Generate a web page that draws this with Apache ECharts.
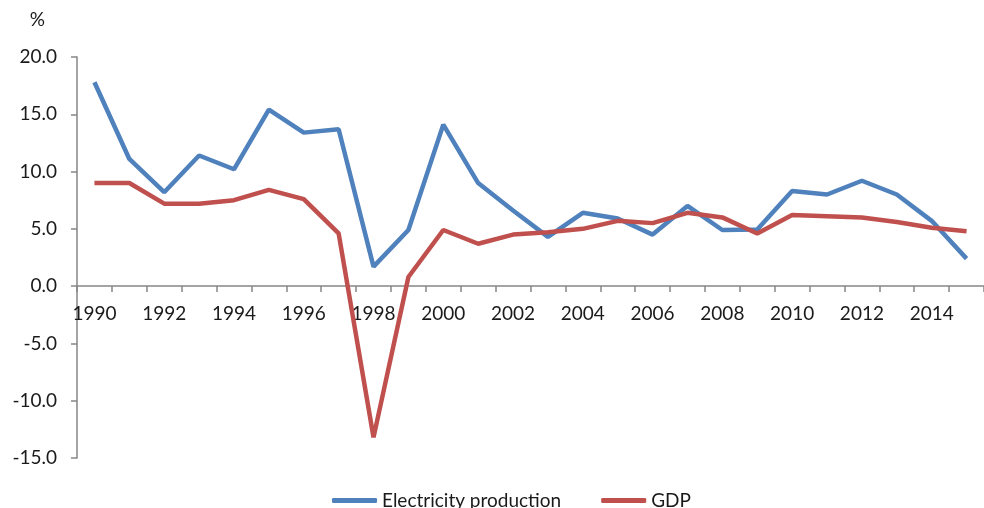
<!DOCTYPE html>
<html>
<head>
<meta charset="utf-8">
<script src="https://cdn.jsdelivr.net/npm/echarts@6/dist/echarts.min.js"></script>
<style>
  html, body { margin: 0; padding: 0; background: #fff; }
  #chart { width: 984px; height: 508px; }
</style>
</head>
<body>
<div id="chart"></div>
<script>
var years = ['1990', '1991', '1992', '1993', '1994', '1995', '1996', '1997', '1998', '1999',
    '2000', '2001', '2002', '2003', '2004', '2005', '2006', '2007', '2008', '2009',
    '2010', '2011', '2012', '2013', '2014', '2015'];

var electricity = [17.8, 11.1, 8.2, 11.4, 10.2, 15.4, 13.4, 13.7, 1.7, 4.9,
    14.1, 9.0, 6.6, 4.3, 6.4, 5.9, 4.5, 7.0, 4.9, 4.95,
    8.3, 8.0, 9.2, 8.0, 5.7, 2.4];

var gdp = [9.0, 9.0, 7.2, 7.2, 7.5, 8.4, 7.6, 4.6, -13.2, 0.8,
    4.9, 3.7, 4.5, 4.7, 5.0, 5.7, 5.5, 6.4, 6.0, 4.6,
    6.2, 6.1, 6.0, 5.6, 5.1, 4.8];

var font = 'Lato, "Open Sans", sans-serif';
var axisColor = '#868686';
var textColor = '#1a1a1a';

var chartDom = document.getElementById('chart');
var chart = echarts.init(chartDom);

var option = {
    animation: false,
    textStyle: { fontFamily: font },
    grid: { left: 77, right: 0, top: 57, bottom: 50 },
    legend: {
        bottom: -7,
        left: 327,
        itemWidth: 45,
        itemHeight: 5,
        itemGap: 40,
        icon: 'roundRect',
        textStyle: { fontSize: 19, color: textColor, fontFamily: font },
        data: ['Electricity production', 'GDP']
    },
    xAxis: {
        type: 'category',
        data: years,
        boundaryGap: true,
        offset: -172,
        axisLine: { onZero: false, lineStyle: { color: axisColor, width: 1.5 } },
        axisTick: { show: true, interval: 0, length: 6, lineStyle: { color: axisColor, width: 1.5 } },
        axisLabel: { interval: 1, margin: 18, fontSize: 19, color: textColor, fontFamily: font }
    },
    yAxis: {
        type: 'value',
        min: -15,
        max: 20,
        interval: 5,
        name: '%',
        nameLocation: 'end',
        nameGap: 28,
        nameTextStyle: { fontSize: 19, color: textColor, align: 'right', padding: [0, 32, 0, 0] },
        axisLine: { show: true, lineStyle: { color: axisColor, width: 1.5 } },
        axisTick: { show: true, length: 6, inside: false, lineStyle: { color: axisColor, width: 1.5 } },
        splitLine: { show: false },
        axisLabel: {
            margin: 20,
            fontSize: 19,
            color: textColor,
            fontFamily: font,
            formatter: function (v) { return v.toFixed(1); }
        }
    },
    series: [
        {
            name: 'Electricity production',
            type: 'line',
            data: electricity,
            symbol: 'none',
            itemStyle: { color: '#4F81BD' },
            lineStyle: { color: '#4F81BD', width: 4.5 }
        },
        {
            name: 'GDP',
            type: 'line',
            data: gdp,
            symbol: 'none',
            itemStyle: { color: '#C0504D' },
            lineStyle: { color: '#C0504D', width: 4.5 }
        }
    ]
};

chart.setOption(option);
</script>
</body>
</html>
